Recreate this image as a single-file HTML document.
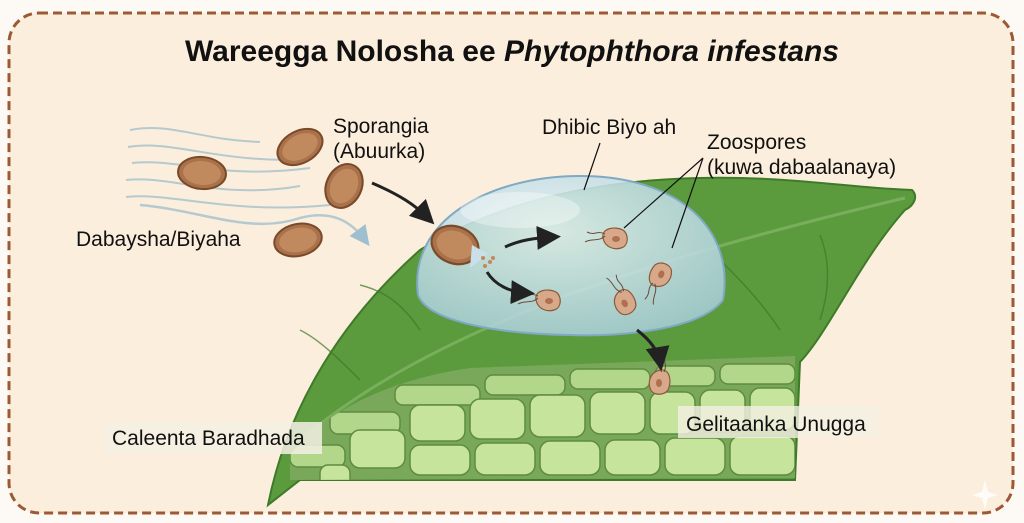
<!DOCTYPE html>
<html><head><meta charset="utf-8"><style>
html,body{margin:0;padding:0;background:#fff;}
svg{display:block;font-family:"Liberation Sans",sans-serif;}
</style></head><body>
<svg width="1024" height="523" viewBox="0 0 1024 523" xmlns="http://www.w3.org/2000/svg">
<defs>
<clipPath id="cs"><path d="M290,455 C330,405 400,378 470,368 L795,356 L795,478 L290,480 Z"/></clipPath>
<radialGradient id="drop" cx="0.45" cy="0.35" r="0.7"><stop offset="0" stop-color="#e4f1f3" stop-opacity="0.9"/><stop offset="1" stop-color="#a9cfdc" stop-opacity="0.85"/></radialGradient>
<g id="spore"><ellipse rx="24" ry="16" fill="#a9724a" stroke="#7a4a2a" stroke-width="2"/><ellipse rx="19" ry="12" fill="#c08a5e"/></g>
<g id="zoo"><path d="M-12,0 C-14,-10 0,-12 8,-8 C14,-4 14,8 6,10 C0,12 -10,10 -12,0Z" fill="#d7a98a" stroke="#8a5a3a" stroke-width="1.2"/><ellipse cx="1" cy="1" rx="4" ry="3" fill="#b0704e"/><path d="M-10,-4 C-18,-8 -20,-2 -28,-6 M-10,-2 C-16,4 -24,0 -30,4" stroke="#6a4a3a" stroke-width="1" fill="none"/></g>
<marker id="ah" markerWidth="8" markerHeight="8" refX="5" refY="4" orient="auto"><path d="M0,0 L8,4 L0,8 Z" fill="#222"/></marker>
<marker id="ahb" markerWidth="8" markerHeight="8" refX="5" refY="4" orient="auto"><path d="M0,0 L8,4 L0,8 Z" fill="#8fb7cc"/></marker>
</defs>
<rect x="0" y="0" width="1024" height="523" fill="#fdfaf5"/>
<rect x="9" y="13" width="1004" height="500" rx="30" fill="#fbeedc" stroke="#9c5a34" stroke-width="3" stroke-dasharray="9,5"/>
<text x="512" y="61" text-anchor="middle" font-size="30" font-weight="bold" fill="#111">Wareegga Nolosha ee <tspan font-style="italic">Phytophthora infestans</tspan></text>
<g stroke="#a9c3cf" stroke-width="2" fill="none" opacity="0.85">
<path d="M130,130 C170,122 200,140 260,142"/>
<path d="M128,147 C170,140 210,160 290,160"/>
<path d="M132,163 C180,158 220,180 310,168"/>
<path d="M126,180 C170,175 220,200 300,186"/>
<path d="M126,197 C170,192 230,215 330,205"/>
<path d="M140,205 C200,210 250,235 300,218 C330,210 350,220 365,240" stroke-width="2.5" marker-end="url(#ahb)"/>
</g>
<path d="M268,505 C285,420 330,330 420,250 C500,200 600,180 700,178 C790,176 850,188 912,190 C918,196 915,205 905,210 C860,260 830,330 800,362 L795,480 L300,480 Z" fill="#5c9a3e" stroke="#3f7a2a" stroke-width="2"/>
<g stroke="#3f7a2a" stroke-width="1.5" fill="none" opacity="0.7">
<path d="M300,440 C420,340 600,270 905,198" stroke-width="3" stroke="#86b86a"/>
<path d="M360,380 C340,360 320,340 300,330 M420,330 C400,300 380,290 360,285 M720,260 C740,280 760,300 780,330 M820,235 C830,260 830,290 820,320"/>
</g>
<g clip-path="url(#cs)">
<rect x="280" y="350" width="530" height="140" fill="#7aa85a"/>
<g fill="#b2d68a" stroke="#5e8c40" stroke-width="1.5">
<rect x="290" y="445" width="55" height="22" rx="8"/><rect x="330" y="412" width="70" height="22" rx="8"/>
<rect x="395" y="385" width="85" height="20" rx="8"/><rect x="485" y="375" width="80" height="20" rx="8"/>
<rect x="570" y="369" width="80" height="20" rx="8"/><rect x="655" y="366" width="60" height="20" rx="8"/><rect x="720" y="364" width="75" height="20" rx="8"/>
</g>
<g fill="#c6e49c" stroke="#5e8c40" stroke-width="1.5">
<rect x="350" y="430" width="55" height="38" rx="10"/><rect x="410" y="405" width="55" height="36" rx="10"/><rect x="470" y="399" width="55" height="40" rx="10"/>
<rect x="530" y="395" width="55" height="42" rx="10"/><rect x="590" y="392" width="55" height="42" rx="10"/><rect x="650" y="392" width="45" height="42" rx="10"/>
<rect x="700" y="390" width="45" height="42" rx="10"/><rect x="750" y="388" width="45" height="42" rx="10"/>
<rect x="410" y="445" width="60" height="30" rx="10"/><rect x="475" y="443" width="60" height="32" rx="10"/><rect x="540" y="441" width="60" height="34" rx="10"/>
<rect x="605" y="440" width="55" height="35" rx="10"/><rect x="665" y="438" width="60" height="37" rx="10"/><rect x="730" y="436" width="65" height="39" rx="10"/>
<rect x="320" y="465" width="30" height="25" rx="8"/>
</g>
</g>
<path d="M418,295 C408,220 490,176 580,176 C680,176 735,230 723,300 C700,330 620,337 570,335 C500,334 428,322 418,295Z" fill="url(#drop)" stroke="#7fa9c4" stroke-width="2"/>
<ellipse cx="520" cy="210" rx="60" ry="18" fill="#fff" opacity="0.35"/>
<g transform="translate(455,245) rotate(20)"><use href="#spore" transform="scale(1,1.15)"/></g>
<path d="M472,245 L488,254 L470,268 Z" fill="#c9e0ea"/>
<g fill="#c08a5e"><circle cx="483" cy="258" r="2"/><circle cx="490" cy="262" r="2"/><circle cx="485" cy="266" r="2"/><circle cx="493" cy="258" r="2"/></g>
<use href="#zoo" transform="translate(615,238)"/>
<use href="#zoo" transform="translate(548,300)"/>
<use href="#zoo" transform="translate(660,275) rotate(-70)"/>
<use href="#zoo" transform="translate(625,302) rotate(60)"/>
<use href="#zoo" transform="translate(660,382) rotate(90)"/>
<g stroke="#222" stroke-width="3" fill="none" marker-end="url(#ah)">
<path d="M372,183 C400,195 415,205 428,218"/>
<path d="M505,247 C520,240 535,238 552,237"/>
<path d="M487,272 C495,285 510,292 526,293"/>
<path d="M637,330 C650,340 658,350 660,362"/>
</g>
<use href="#spore" transform="translate(300,147) rotate(-28)"/>
<use href="#spore" transform="translate(202,173) rotate(5)"/>
<use href="#spore" transform="translate(344,186) rotate(-65) scale(0.95,1.1)"/>
<use href="#spore" transform="translate(298,240) rotate(-12)"/>
<g stroke="#111" stroke-width="1.2" fill="none">
<path d="M600,143 L584,190"/>
<path d="M703,158 L624,228 M703,158 L672,248"/>
</g>
<g font-size="21" fill="#111">
<text x="333" y="133">Sporangia</text><text x="333" y="158">(Abuurka)</text>
<text x="76" y="246">Dabaysha/Biyaha</text>
<text x="542" y="134">Dhibic Biyo ah</text>
<text x="707" y="149">Zoospores</text><text x="707" y="174">(kuwa dabaalanaya)</text>
<rect x="104" y="422" width="218" height="32" fill="#f4f0e4" opacity="0.85"/>
<text x="112" y="445">Caleenta Baradhada</text>
<rect x="678" y="406" width="200" height="32" fill="#f4f0e4" opacity="0.8"/>
<text x="686" y="431">Gelitaanka Unugga</text>
</g>
<path d="M985,480 L988,492 L998,495 L988,498 L985,510 L982,498 L972,495 L982,492 Z" fill="#fff" opacity="0.8"/>
</svg>
</body></html>
